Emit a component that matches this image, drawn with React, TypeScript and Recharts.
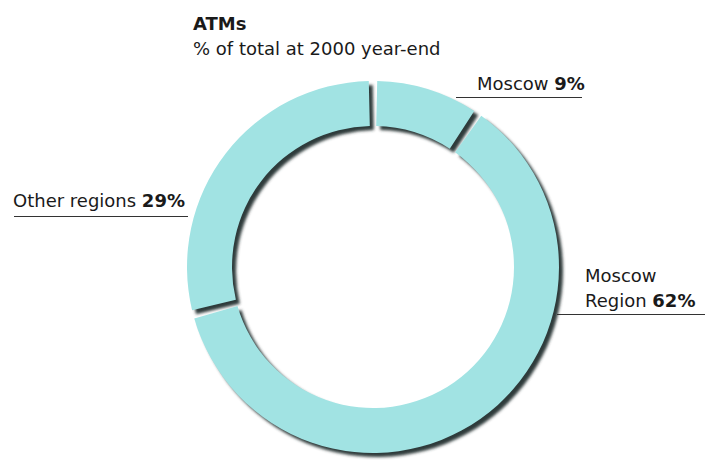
import React from 'react';
import { PieChart, Pie, Cell } from 'recharts';

const SLICE_NAMES = ['Moscow', 'Moscow Region', 'Other regions'];
const SLICE_VALUES = [9, 62, 29];
const TITLE = 'ATMs';
const SUBTITLE = '% of total at 2000 year-end';

const data = SLICE_NAMES.map((name, i) => ({ name, value: SLICE_VALUES[i] }));

const FONT = '"DejaVu Sans", sans-serif';
const RING = '#a1e3e3';
const SHADOW = '#2f3a3a';
const INK = '#1a1a1a';
const PAD = 2.6;

const LABEL_LAYOUT = [
  { x: 477, y: 90, wrap: false, lx1: 456, lx2: 582, ly: 97.5 },
  { x: 585, y: 282, wrap: true, lx1: 557, lx2: 705, ly: 314.5 },
  { x: 13, y: 207, wrap: false, lx1: 14, lx2: 188, ly: 216.5 },
];

const renderLabel = (props: any) => {
  const i = props.index;
  const L = LABEL_LAYOUT[i];
  const name = SLICE_NAMES[i];
  const words = L.wrap ? name.split(' ') : [name];
  return (
    <g key={`lbl-${i}`}>
      {words.map((w, k) => (
        <text key={k} x={L.x} y={L.y + k * 25} fontFamily={FONT} fontSize={18} fill={INK}>
          {k === words.length - 1 ? w + ' ' : w}
          {k === words.length - 1 ? <tspan fontWeight="bold">{`${SLICE_VALUES[i]}%`}</tspan> : null}
        </text>
      ))}
      <line x1={L.lx1} x2={L.lx2} y1={L.ly} y2={L.ly} stroke="#333" strokeWidth={1} />
    </g>
  );
};

export default function App() {
  return (
    <div style={{ position: 'absolute', left: 0, top: 0, width: 708, height: 462, background: '#fff' }}>
      <PieChart width={708} height={462} margin={{ top: 0, right: 0, bottom: 0, left: 0 }}>
        <defs>
          <filter id="ringBlur" x="-20%" y="-20%" width="140%" height="140%">
            <feGaussianBlur stdDeviation="1.4" />
          </filter>
        </defs>
        <text x={193} y={30} fontFamily={FONT} fontSize={18} fontWeight="bold" fill={INK}>{TITLE}</text>
        <text x={193} y={55} fontFamily={FONT} fontSize={18} fill={INK}>{SUBTITLE}</text>
        <Pie
          data={data}
          dataKey="value"
          nameKey="name"
          cx={377}
          cy={271}
          innerRadius={141}
          outerRadius={186}
          startAngle={90 - PAD / 2}
          endAngle={-270 - PAD / 2}
          paddingAngle={PAD}
          stroke="none"
          isAnimationActive={false}
          label={false}
          labelLine={false}
        >
          {data.map((d, i) => (
            <Cell key={`s-${i}`} fill={SHADOW} filter="url(#ringBlur)" />
          ))}
        </Pie>
        <Pie
          data={data}
          dataKey="value"
          nameKey="name"
          cx={373}
          cy={267}
          innerRadius={141}
          outerRadius={186}
          startAngle={90 - PAD / 2}
          endAngle={-270 - PAD / 2}
          paddingAngle={PAD}
          stroke="none"
          isAnimationActive={false}
          label={renderLabel}
          labelLine={false}
        >
          {data.map((d, i) => (
            <Cell key={`c-${i}`} fill={RING} />
          ))}
        </Pie>
      </PieChart>
    </div>
  );
}
